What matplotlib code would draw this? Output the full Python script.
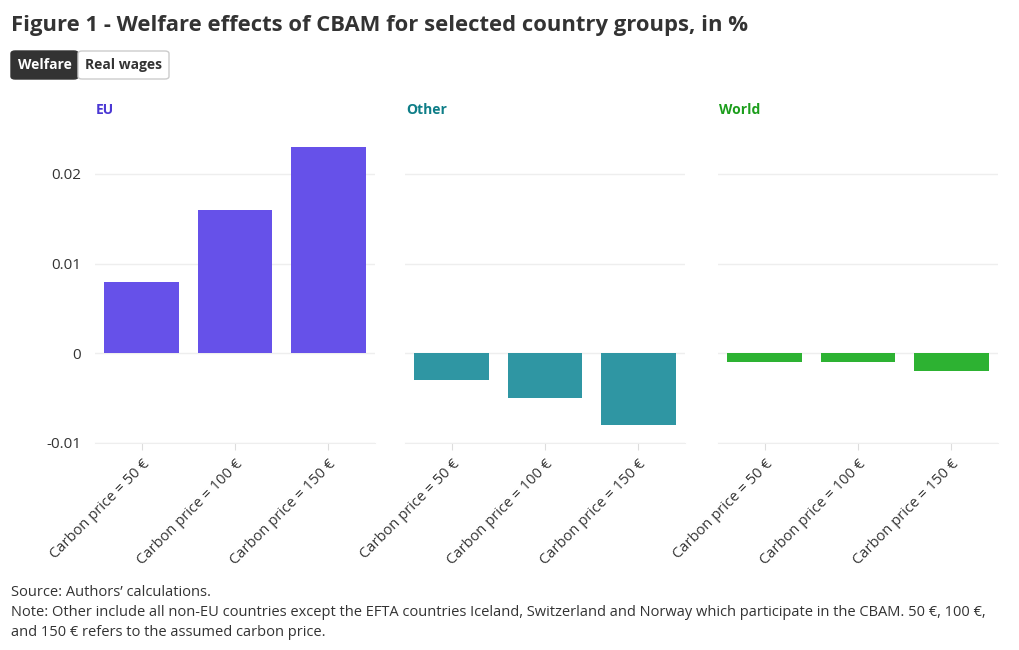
import matplotlib.pyplot as plt
from matplotlib.patches import FancyBboxPatch

# data
categories = ['Carbon price = 50 €', 'Carbon price = 100 €', 'Carbon price = 150 €']
groups = ['EU', 'Other', 'World']
eu_values = [0.008, 0.016, 0.023]
other_values = [-0.003, -0.005, -0.008]
world_values = [-0.001, -0.001, -0.002]
y_ticks = [-0.01, 0, 0.01, 0.02]
y_tick_labels = ['-0.01', '0', '0.01', '0.02']

bar_colors = ['#6651e9', '#2f96a3', '#2db232']
title_colors = ['#4b38d4', '#0f7e88', '#1c9e1c']

plt.rcParams.update({'font.family': ['Open Sans', 'DejaVu Sans']})

fig = plt.figure(figsize=(10.2, 6.5), dpi=100)

# title
fig.text(11/1020, 1 - 25/650, 'Figure 1 - Welfare effects of CBAM for selected country groups, in %',
         fontsize=15.8, fontweight='bold', color='#333333', va='center', ha='left')

# toggle buttons
btn1 = FancyBboxPatch((11/1020, 1 - 79/650), 67/1020, 28/650,
                      boxstyle='round,pad=0,rounding_size=0.004',
                      transform=fig.transFigure, facecolor='#333333',
                      edgecolor='#333333', linewidth=1)
btn2 = FancyBboxPatch((78/1020, 1 - 79/650), 91/1020, 28/650,
                      boxstyle='round,pad=0,rounding_size=0.004',
                      transform=fig.transFigure, facecolor='white',
                      edgecolor='#cccccc', linewidth=1)
fig.patches.extend([btn1, btn2])
fig.text(44.5/1020, 1 - 65/650, 'Welfare', color='white', fontsize=10,
         fontweight='bold', ha='center', va='center')
fig.text(123.5/1020, 1 - 65/650, 'Real wages', color='#333333', fontsize=10,
         fontweight='bold', ha='center', va='center')

series = [eu_values, other_values, world_values]
lefts = [95, 405, 718]
x = list(range(len(categories)))

for i, vals in enumerate(series):
    ax = fig.add_axes([lefts[i]/1020, 1 - 443/650, 280/1020, (443 - 129)/650])
    ax.bar(x, vals, width=0.8, color=bar_colors[i], zorder=3)
    ax.set_xlim(-0.5, 2.5)
    ax.set_ylim(-0.01, 0.025)
    ax.set_yticks(y_ticks)
    ax.grid(axis='y', color='#eeeeee', linewidth=1, zorder=0)
    for s in ['top', 'right', 'left']:
        ax.spines[s].set_visible(False)
    ax.spines['bottom'].set_color('#eeeeee')
    ax.set_xticks(x)
    ax.set_xticklabels(categories, rotation=45, ha='right', rotation_mode='anchor',
                       fontsize=10.6, color='#333333')
    ax.tick_params(axis='x', length=5, color='#dddddd', pad=5)
    if i == 0:
        ax.set_yticklabels(y_tick_labels, fontsize=11, color='#333333')
        ax.tick_params(axis='y', length=0, pad=10)
    else:
        ax.tick_params(axis='y', length=0, labelleft=False)
    fig.text((lefts[i] + 1)/1020, 1 - 110/650, groups[i], color=title_colors[i],
             fontsize=10, fontweight='bold', ha='left', va='center')

fig.text(11/1020, 1 - 593/650, 'Source: Authors\u2019 calculations.', fontsize=10.5,
         color='#333333', ha='left', va='center')
fig.text(11/1020, 1 - 613/650,
         'Note: Other include all non-EU countries except the EFTA countries Iceland, Switzerland and Norway which participate in the CBAM. 50 \u20ac, 100 \u20ac,',
         fontsize=10.5, color='#333333', ha='left', va='center')
fig.text(11/1020, 1 - 632/650, 'and 150 \u20ac refers to the assumed carbon price.',
         fontsize=10.5, color='#333333', ha='left', va='center')

plt.savefig('out.png', dpi=100)
